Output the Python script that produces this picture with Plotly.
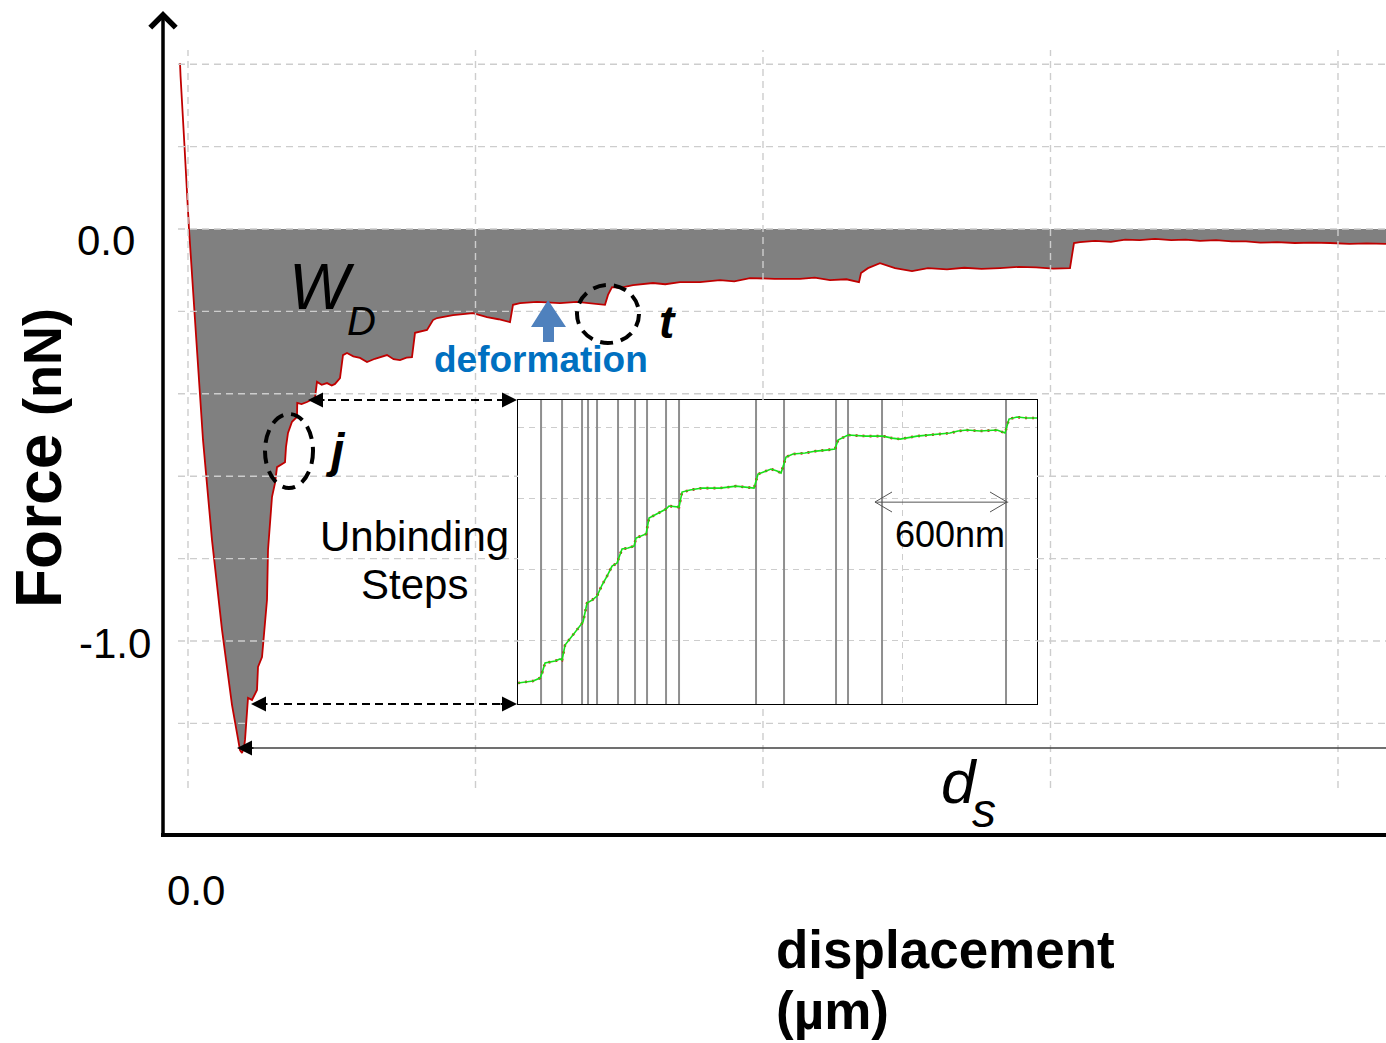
import plotly.graph_objects as go

# ---------------- data ----------------
disp_um = [-0.0278, -0.0260, -0.0122, 0.0035, 0.0278, 0.0522, 0.0835, 0.1183, 0.1530, 0.1809,
           0.1878, 0.1948, 0.1983, 0.2087, 0.2226, 0.2400, 0.2435, 0.2574, 0.2748, 0.2783,
           0.2922, 0.3026, 0.3096, 0.3374, 0.3409, 0.3478, 0.3617, 0.3791, 0.3800, 0.3950,
           0.4139, 0.4280, 0.4417, 0.4487, 0.4650, 0.4835, 0.5000, 0.5113, 0.5287, 0.5391,
           0.5530, 0.5750, 0.5983, 0.6226, 0.6500, 0.6922, 0.7150, 0.7374, 0.7600, 0.7791,
           0.7896, 0.8313, 0.8522, 0.8661, 0.9217, 0.9913, 1.0400, 1.0800, 1.1200, 1.1304,
           1.1548, 1.2139, 1.2939, 1.3530, 1.3878, 1.4504, 1.4609, 1.4748, 1.5026, 1.5478,
           1.6174, 1.6600, 1.7113, 1.7809, 1.8504, 1.9000, 1.9548, 2.0400, 2.1287, 2.1800,
           2.2330, 2.2900, 2.3339, 2.3409, 2.3652, 2.4070, 2.4591, 2.5183, 2.5739, 2.6400,
           2.7000, 2.7600, 2.8243, 2.8900, 2.9500, 3.0100, 3.0678, 3.0817, 3.1026, 3.1548,
           3.2100, 3.2600, 3.3100, 3.3635, 3.4200, 3.4700, 3.5200, 3.5757, 3.6300, 3.6800,
           3.7300, 3.7878, 3.8500, 3.9100, 3.9722, 4.0400, 4.1000, 4.1670]
force_nN = [0.403, 0.372, 0.201, 0.000, -0.257, -0.512, -0.755, -0.973, -1.155, -1.265,
            -1.272, -1.258, -1.240, -1.138, -1.143, -1.119, -1.063, -1.039, -0.900, -0.779,
            -0.650, -0.617, -0.578, -0.566, -0.529, -0.495, -0.468, -0.456, -0.422, -0.425,
            -0.420, -0.414, -0.410, -0.371, -0.378, -0.374, -0.380, -0.376, -0.362, -0.306,
            -0.301, -0.309, -0.313, -0.323, -0.315, -0.306, -0.316, -0.318, -0.312, -0.311,
            -0.252, -0.245, -0.221, -0.216, -0.209, -0.204, -0.214, -0.219, -0.226, -0.184,
            -0.180, -0.177, -0.180, -0.177, -0.180, -0.184, -0.160, -0.141, -0.143, -0.136,
            -0.131, -0.134, -0.129, -0.129, -0.124, -0.127, -0.119, -0.121, -0.121, -0.118,
            -0.124, -0.122, -0.129, -0.107, -0.095, -0.083, -0.095, -0.102, -0.095, -0.098,
            -0.094, -0.097, -0.095, -0.092, -0.093, -0.096, -0.095, -0.034, -0.032, -0.029,
            -0.031, -0.026, -0.027, -0.024, -0.027, -0.026, -0.029, -0.027, -0.030, -0.030,
            -0.033, -0.032, -0.034, -0.033, -0.034, -0.036, -0.035, -0.036]

inset_disp_nm = [0, 67.5, 99, 108, 121.5, 166.5, 189, 198, 211.5, 243,
                 274.5, 292.5, 310.5, 333, 355.5, 378, 400.5, 423, 445.5, 468,
                 495, 522, 531, 558, 576, 589.5, 616.5, 648, 666, 679.5,
                 711, 724.5, 738, 774, 828, 909, 981, 1021.5, 1062, 1080,
                 1111.5, 1138.5, 1165.5, 1183.5, 1206, 1237.5, 1291.5, 1341, 1386, 1426.5,
                 1440, 1485, 1566, 1642.5, 1683, 1719, 1795.5, 1876.5, 1944, 1980,
                 2020.5, 2079, 2155.5, 2191.5, 2209.5, 2245.5, 2290.5, 2335.5]
inset_force_pN = [40.3, 43.1, 47.3, 54.3, 68.4, 71.2, 74.1, 72.7, 93.8, 106.4,
                  120.5, 126.2, 152.9, 157.1, 162.8, 178.3, 190.9, 205.0, 209.2, 228.9,
                  230.3, 233.2, 244.4, 247.2, 250.1, 272.6, 276.8, 282.4, 285.3, 289.5,
                  288.1, 288.1, 309.2, 312.0, 314.8, 314.8, 317.6, 316.2, 314.8, 334.5,
                  338.8, 341.6, 338.8, 336.0, 358.5, 362.7, 364.1, 366.9, 368.3, 369.7,
                  382.4, 389.5, 388.0, 388.0, 385.2, 383.8, 388.0, 390.9, 392.3, 395.1,
                  396.5, 395.1, 396.5, 392.3, 412.0, 414.8, 413.4, 413.4]
step_positions_nm = [103.5, 198, 288, 315, 355.5, 450, 526.5, 580.5, 666, 724.5,
                     1071, 1197, 1431, 1485, 1638, 2196]

x_gridlines_um = [0, 1, 2, 3, 4]
y_gridlines_nN = [-1.2, -1.0, -0.8, -0.6, -0.4, -0.2, 0.0, 0.2, 0.4]
inset_x_gridlines_nm = [1728]
inset_y_gridlines_pN = [100, 200, 300, 400]
y_tick_labels = ["0.0", "-1.0"]
x_tick_labels = ["0.0"]
scale_bar_nm = [1606, 2206]
scale_bar_y_pN = 295
scale_bar_label = "600nm"

# ---------------- layout geometry ----------------
W, H = 1386, 1043
ML, MR, MT, MB = 178, 0, 50, 255
PW, PH = W - ML - MR, H - MT - MB
X_RANGE = [-0.0348, 4.1670]
Y_RANGE = [-1.3568, 0.4345]
INSET_XD = [0.2815, 0.7111]
INSET_YD = [0.1138, 0.5257]
INSET_XR = [0, 2335.5]
INSET_YR = [10.7, 438.8]
FONT = "Liberation Sans, Arial, sans-serif"


def fx(px):
    return (px - ML) / PW


def fy(py):
    return (H - MB - py) / PH


fig = go.Figure()

# zero crossing index for the shaded work area
i0 = next(i for i, v in enumerate(force_nN) if v <= 0)
fig.add_trace(go.Scatter(x=disp_um[i0:], y=force_nN[i0:], mode="lines", fill="tozeroy",
                         fillcolor="#808080", line=dict(width=0, color="#808080"),
                         hoverinfo="skip", showlegend=False))
fig.add_trace(go.Scatter(x=disp_um, y=force_nN, mode="lines",
                         line=dict(color="#c00000", width=1.8), showlegend=False))

# inset: step markers
sx, sy = [], []
for p in step_positions_nm:
    sx += [p, p, None]
    sy += [INSET_YR[0], INSET_YR[1], None]
fig.add_trace(go.Scatter(x=sx, y=sy, mode="lines", line=dict(color="#8f8f8f", width=2),
                         xaxis="x2", yaxis="y2", showlegend=False, hoverinfo="skip"))
fig.add_trace(go.Scatter(x=inset_disp_nm, y=inset_force_pN, mode="lines",
                         line=dict(color="#d01010", width=2.6, dash="2px,5px"),
                         xaxis="x2", yaxis="y2", showlegend=False))
fig.add_trace(go.Scatter(x=inset_disp_nm, y=inset_force_pN, mode="lines",
                         line=dict(color="#18e018", width=1.6),
                         xaxis="x2", yaxis="y2", showlegend=False))

shapes = []
# main gridlines (drawn above the shaded area, skipping the inset box)
ix0 = X_RANGE[0] + INSET_XD[0] * (X_RANGE[1] - X_RANGE[0])
ix1 = X_RANGE[0] + INSET_XD[1] * (X_RANGE[1] - X_RANGE[0])
iy0 = Y_RANGE[0] + INSET_YD[0] * (Y_RANGE[1] - Y_RANGE[0])
iy1 = Y_RANGE[0] + INSET_YD[1] * (Y_RANGE[1] - Y_RANGE[0])
grid_line = dict(color="#cdcdcd", width=1.4, dash="7px,5px")
for g in x_gridlines_um:
    segs = [(Y_RANGE[0], iy0), (iy1, Y_RANGE[1])] if ix0 < g < ix1 else [tuple(Y_RANGE)]
    for a, b in segs:
        shapes.append(dict(type="line", xref="x", yref="y", x0=g, x1=g, y0=a, y1=b,
                           line=grid_line, layer="above"))
for g in y_gridlines_nN:
    segs = [(X_RANGE[0], ix0), (ix1, X_RANGE[1])] if iy0 < g < iy1 else [tuple(X_RANGE)]
    for a, b in segs:
        shapes.append(dict(type="line", xref="x", yref="y", x0=a, x1=b, y0=g, y1=g,
                           line=grid_line, layer="above"))

# x axis line
shapes.append(dict(type="line", xref="paper", yref="paper", x0=fx(161), x1=fx(1386),
                   y0=fy(835), y1=fy(835), line=dict(color="black", width=4), layer="above"))
# dashed ellipses
circ = dict(color="black", width=4, dash="13px,8px")
shapes.append(dict(type="circle", xref="paper", yref="paper", x0=fx(577), x1=fx(639),
                   y0=fy(343), y1=fy(285), line=circ, layer="above"))
shapes.append(dict(type="circle", xref="paper", yref="paper", x0=fx(265), x1=fx(313),
                   y0=fy(488), y1=fy(414), line=circ, layer="above"))
# dashed double arrows (lines)
dl = dict(color="black", width=2, dash="8px,5px")
shapes.append(dict(type="line", xref="paper", yref="paper", x0=fx(315), x1=fx(510),
                   y0=fy(400), y1=fy(400), line=dl, layer="above"))
shapes.append(dict(type="line", xref="paper", yref="paper", x0=fx(258), x1=fx(510),
                   y0=fy(704), y1=fy(704), line=dl, layer="above"))
# d_s line
shapes.append(dict(type="line", xref="paper", yref="paper", x0=fx(245), x1=fx(1386),
                   y0=fy(748), y1=fy(748), line=dict(color="#404040", width=1.5), layer="above"))
# blue block arrow
pts = [(548, 300), (566, 327), (554, 327), (554, 342), (543, 342), (543, 327), (531, 327)]
path = "M " + " L ".join(f"{fx(a):.5f},{fy(b):.5f}" for a, b in pts) + " Z"
shapes.append(dict(type="path", xref="paper", yref="paper", path=path,
                   fillcolor="#4f81bd", line=dict(width=0), layer="above"))
# inset scale bar: line + thin open chevrons
sb = dict(color="#555555", width=1)
shapes.append(dict(type="line", xref="x2", yref="y2", x0=scale_bar_nm[0], x1=scale_bar_nm[1],
                   y0=scale_bar_y_pN, y1=scale_bar_y_pN, line=sb, layer="above"))
for pts in ([(892, 492), (875, 502), (892, 512)], [(990, 492), (1007, 502), (990, 512)]):
    p = "M " + " L ".join(f"{fx(a):.5f},{fy(b):.5f}" for a, b in pts)
    shapes.append(dict(type="path", xref="paper", yref="paper", path=p, line=sb,
                       layer="above"))

annotations = []


def txt(text, px, py, size, color="black", xanchor="center", angle=0):
    annotations.append(dict(text=text, x=fx(px), y=fy(py), xref="paper", yref="paper",
                            showarrow=False, xanchor=xanchor, yanchor="middle",
                            textangle=angle, font=dict(family=FONT, size=size, color=color)))


def head(px, py, ax, ay, color="black", width=2, size=1.5, style=2):
    annotations.append(dict(text="", x=fx(px), y=fy(py), xref="paper", yref="paper",
                            showarrow=True, ax=ax, ay=ay, arrowhead=style, arrowsize=size,
                            arrowwidth=width, arrowcolor=color))


# arrowheads
head(308, 400, 18, 0)
head(517, 400, -18, 0)
head(251, 704, 18, 0)
head(517, 704, -18, 0)
head(237, 748, 18, 0, width=1.5, size=2)
# y-axis with open arrow at top
annotations.append(dict(text="", x=fx(163), y=fy(11), xref="paper", yref="paper",
                        showarrow=True, ax=0, ay=826, arrowhead=4, arrowsize=1.4,
                        arrowwidth=3.5, arrowcolor="black"))

# texts
txt(y_tick_labels[0], 137, 240.5, 42, xanchor="right")
txt(y_tick_labels[1], 153, 643.5, 42, xanchor="right")
txt(x_tick_labels[0], 196, 890, 42)
txt("<i>W</i>", 322, 287, 64)
txt("<i>D</i>", 361, 321, 40)
txt("<b>deformation</b>", 541, 359, 37, color="#0070c0")
txt("<b><i>t</i></b>", 667, 322, 46)
txt("<b><i>j</i></b>", 335, 450, 48)
txt("Unbinding", 414, 536, 42)
txt("Steps", 414, 584, 42)
txt(scale_bar_label, 950, 534, 36)
txt("<i>d</i>", 959, 781, 62)
txt("<i>s</i>", 984, 810, 48)
txt("<b>displacement</b>", 774, 949, 53, xanchor="left")
txt("<b>(µm)</b>", 774, 1010, 53, xanchor="left")
txt("<b>Force <span style='font-size:54px'>(nN)</span></b>", 39, 458, 64, angle=-90)

fig.update_layout(
    width=W, height=H, autosize=False,
    margin=dict(l=ML, r=MR, t=MT, b=MB, pad=0),
    paper_bgcolor="white", plot_bgcolor="white",
    showlegend=False,
    font=dict(family=FONT),
    xaxis=dict(range=X_RANGE, showgrid=False, zeroline=False, showticklabels=False,
               showline=False, ticks=""),
    yaxis=dict(range=Y_RANGE, showgrid=False, zeroline=False, showticklabels=False,
               showline=False, ticks=""),
    xaxis2=dict(domain=INSET_XD, anchor="y2", range=INSET_XR, tickvals=inset_x_gridlines_nm,
                showticklabels=False, ticks="", showgrid=True, gridcolor="#cdcdcd",
                griddash="6px,5px", gridwidth=1.3, zeroline=False, showline=True,
                mirror=True, linecolor="black", linewidth=1),
    yaxis2=dict(domain=INSET_YD, anchor="x2", range=INSET_YR, tickvals=inset_y_gridlines_pN,
                showticklabels=False, ticks="", showgrid=True, gridcolor="#cdcdcd",
                griddash="6px,5px", gridwidth=1.3, zeroline=False, showline=True,
                mirror=True, linecolor="black", linewidth=1),
    shapes=shapes,
    annotations=annotations,
)

fig.write_html("out.html",
               config={"displayModeBar": False},
               post_script="document.body.style.margin='0';"
                           "document.body.style.overflow='hidden';")
